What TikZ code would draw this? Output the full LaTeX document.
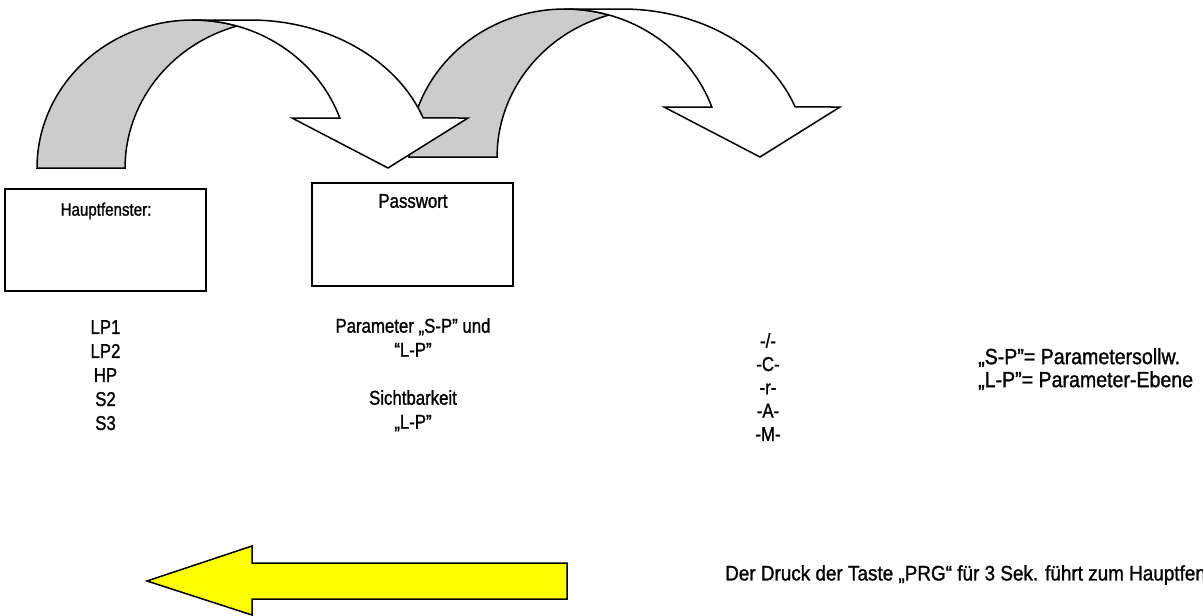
\documentclass[tikz,border=0pt]{standalone}
\usepackage{fontspec}
\setmainfont{Liberation Sans}
\newfontfamily\labfont[FakeStretch=0.84,FakeBold=1.2]{Liberation Sans}
\newfontfamily\legfont[FakeStretch=0.89,FakeBold=1.2]{Liberation Sans}
\newfontfamily\botfont[FakeStretch=0.90,FakeBold=1.2]{Liberation Sans}
\definecolor{backgray}{HTML}{CCCCCC}
\definecolor{arrowyellow}{HTML}{FFFF00}
\begin{document}
\begin{tikzpicture}[x=1pt,y=-1pt,
  outl/.style={draw=black,line width=1.5pt,line join=miter},
  boxnode/.style={draw=black,line width=1.5pt,inner sep=0pt},
  lab/.style={font=\labfont\fontsize{20}{24}\selectfont,align=center,inner sep=0pt},
  smalllab/.style={font=\labfont\fontsize{18}{22}\selectfont,inner sep=0pt},
  leg/.style={font=\legfont\fontsize{22}{23}\selectfont,align=left,inner sep=0pt},
  bot/.style={font=\botfont\fontsize{21}{24}\selectfont,anchor=west,inner sep=0pt}]
\useasboundingbox (0,0) rectangle (1203,616);
\clip (0,0) rectangle (1203,616);
% second curved arrow (behind)
\begin{scope}[shift={(372,-11)}]
  \filldraw[outl,fill=backgray] (37,168) arc[start angle=180,end angle=286.4,x radius=156,y radius=148]
     arc[start angle=253.6,end angle=180,x radius=156,y radius=148] -- cycle;
  \filldraw[outl,fill=white] (193,20) -- (250,20) arc[start angle=270,end angle=340.25,x radius=184,y radius=148]
     -- (468,118) -- (388,168) -- (292,118) -- (339.8,118)
     arc[start angle=340.25,end angle=270,x radius=156,y radius=148] -- cycle;
\end{scope}
% first curved arrow
\begin{scope}
  \filldraw[outl,fill=backgray] (37,168) arc[start angle=180,end angle=286.4,x radius=156,y radius=148]
     arc[start angle=253.6,end angle=180,x radius=156,y radius=148] -- cycle;
  \filldraw[outl,fill=white] (193,20) -- (250,20) arc[start angle=270,end angle=340.25,x radius=184,y radius=148]
     -- (468,118) -- (388,168) -- (292,118) -- (339.8,118)
     arc[start angle=340.25,end angle=270,x radius=156,y radius=148] -- cycle;
\end{scope}
% boxes
\node[boxnode,minimum width=201,minimum height=102] (hfbox) at (105.5,240) {};
\node[boxnode,minimum width=201,minimum height=103] (pwbox) at (412.5,234.5) {};
\node[smalllab] (hftext) at (106,211) {Hauptfenster:};
\node[lab] (pwtext) at (413,201) {Passwort};
% lists
\node[lab,anchor=north] (list1) at (105.5,320) {LP1\\LP2\\HP\\S2\\S3};
\node[lab,anchor=north] (list2) at (413,318) {Parameter „S-P” und\\“L-P”\\[24pt]Sichtbarkeit\\„L-P”};
\node[lab,anchor=north,font=\labfont\fontsize{20}{23.3}\selectfont] (list3) at (768,333) {-/-\\-C-\\-r-\\-A-\\-M-};
\node[leg,anchor=north west] (legend) at (978,348) {„S-P”= Parametersollw.\\„L-P”= Parameter-Ebene};
% yellow arrow
\filldraw[outl,fill=arrowyellow] (147,581) -- (252,546) -- (252,563) -- (567,563) -- (567,599) -- (252,599) -- (252,615) -- cycle;
\node[bot] (bottext) at (725,575) {Der Druck der Taste „PRG“ für 3 Sek. führt zum Hauptfenster};
\end{tikzpicture}
\end{document}
